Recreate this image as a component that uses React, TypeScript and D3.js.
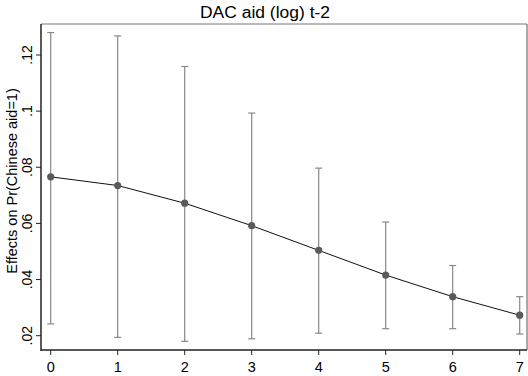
import React from "react";
import * as d3 from "d3";

const categories = [0, 1, 2, 3, 4, 5, 6, 7];
const estimates = [0.0766, 0.0735, 0.0672, 0.0592, 0.0504, 0.0416, 0.0339, 0.0273];
const upper = [0.128, 0.1268, 0.1159, 0.0993, 0.0797, 0.0605, 0.045, 0.0339];
const lower = [0.0242, 0.0194, 0.018, 0.0189, 0.0209, 0.0225, 0.0225, 0.0206];
const yTicks = [0.02, 0.04, 0.06, 0.08, 0.1, 0.12];
const yTickLabels = [".02", ".04", ".06", ".08", ".1", ".12"];
const title = "DAC aid (log) t-2";
const yTitle = "Effects on Pr(Chinese aid=1)";

export default function App() {
  const W = 528, H = 376;
  const left = 41, right = 527, top = 24, bottom = 350;
  const x = d3.scaleLinear().domain([0, 7]).range([50.7, 519.7]);
  const y = d3.scaleLinear().domain([0.02, 0.12]).range([335.7, 55]);
  const line = d3.line<number>().x((_, i) => x(categories[i])).y((d) => y(d));
  const font = "Arial, 'Liberation Sans', sans-serif";
  return (
    <svg width={W} height={H} style={{ position: "absolute", left: 0, top: 0, background: "#fff" }}>
      <rect x={0} y={0} width={W} height={H} fill="#fff" />
      <text x={265} y={18} textAnchor="middle" fontFamily={font} fontSize={15.6} fill="#000" textLength={130} lengthAdjust="spacingAndGlyphs">{title}</text>
      {/* frame */}
      <line x1={left} x2={right} y1={top} y2={top} stroke="#777" strokeWidth={1} />
      <line x1={right} x2={right} y1={top} y2={bottom} stroke="#555" strokeWidth={1} />
      {/* error bars */}
      {categories.map((c, i) => (
        <g key={"e" + i} stroke="#888" strokeWidth={1.2}>
          <line x1={x(c)} x2={x(c)} y1={y(upper[i])} y2={y(lower[i])} />
          <line x1={x(c) - 3.5} x2={x(c) + 3.5} y1={y(upper[i])} y2={y(upper[i])} />
          <line x1={x(c) - 3.5} x2={x(c) + 3.5} y1={y(lower[i])} y2={y(lower[i])} />
        </g>
      ))}
      <path d={line(estimates) || ""} fill="none" stroke="#111" strokeWidth={1} />
      {categories.map((c, i) => (
        <circle key={"p" + i} cx={x(c)} cy={y(estimates[i])} r={3.6} fill="#5a5a5a" />
      ))}
      {/* axes */}
      <line x1={left} x2={left} y1={top} y2={bottom + 1} stroke="#222" strokeWidth={1.5} />
      <line x1={left} x2={right} y1={bottom} y2={bottom} stroke="#222" strokeWidth={1.5} />
      {yTicks.map((t, i) => (
        <g key={"y" + i}>
          <line x1={left - 5} x2={left} y1={y(t)} y2={y(t)} stroke="#222" strokeWidth={1} />
          <text transform={`translate(32,${y(t)}) rotate(-90)`} textAnchor="middle" fontFamily={font} fontSize={14} fill="#000">{yTickLabels[i]}</text>
        </g>
      ))}
      {categories.map((c) => (
        <g key={"x" + c}>
          <line x1={x(c)} x2={x(c)} y1={bottom} y2={bottom + 5} stroke="#222" strokeWidth={1} />
          <text x={x(c)} y={372} textAnchor="middle" fontFamily={font} fontSize={14.5} fill="#000">{c}</text>
        </g>
      ))}
      <text transform={`translate(17,181) rotate(-90)`} textAnchor="middle" fontFamily={font} fontSize={14.5} fill="#000">{yTitle}</text>
    </svg>
  );
}
